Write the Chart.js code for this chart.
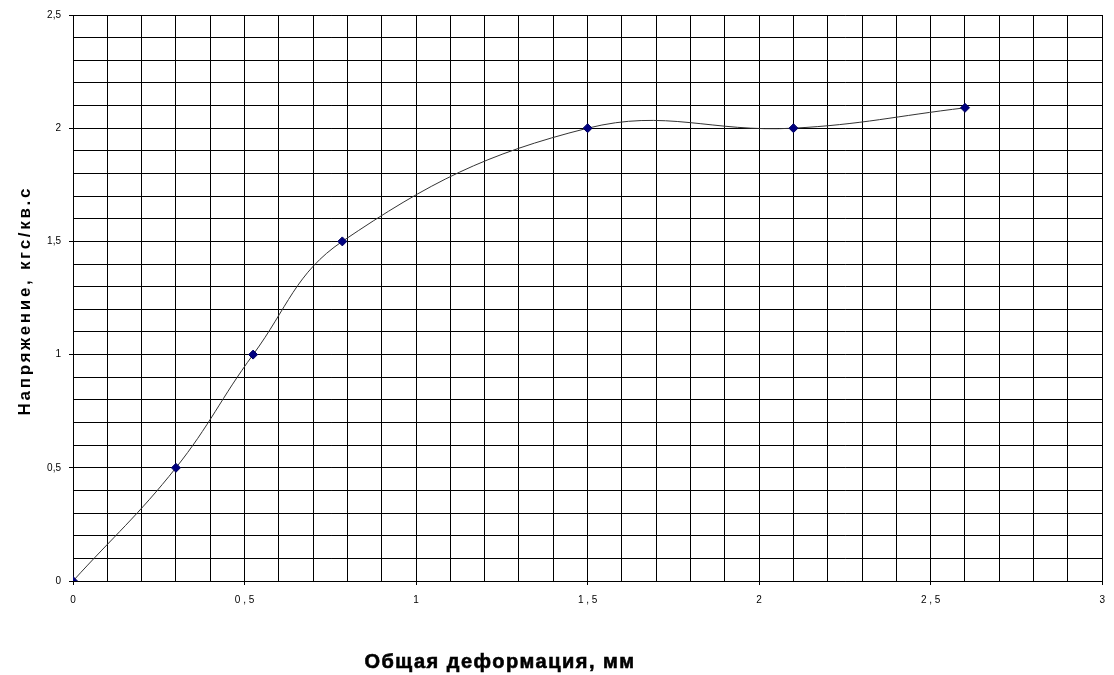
<!DOCTYPE html>
<html>
<head>
<meta charset="utf-8">
<script src="https://cdn.jsdelivr.net/npm/chart.js@4/dist/chart.umd.min.js"></script>
<style>
  body { margin: 0; background: #fff; }
  #wrap { width: 1114px; height: 675px; }
</style>
</head>
<body>
<div id="wrap"><canvas id="chart" width="1114" height="675"></canvas></div>
<script>
// данные
const deformation = [0, 0.3, 0.525, 0.785, 1.5, 2.1, 2.6];
const stress = [0, 0.5, 1, 1.5, 2, 2, 2.09];

const xTitle = 'Общая деформация, мм';
const yTitle = 'Напряжение, кгс/кв.см';

const isMajor = v => Math.round(v * 10) % 5 === 0;
const fmt = v => isMajor(v) ? String(Math.round(v * 10) / 10).replace('.', ' , ') : '';

// подписи осей рисуем сами (подпись по Y обрезана сверху, как в оригинале)
const axisTitles = {
  id: 'axisTitles',
  afterDraw(chart) {
    const ctx = chart.ctx;
    ctx.save();
    ctx.fillStyle = '#000';
    ctx.strokeStyle = '#000';
    ctx.lineWidth = 0.6;
    ctx.font = 'bold 20px "Liberation Sans", Arial, sans-serif';
    ctx.letterSpacing = '1.5px';
    ctx.textAlign = 'center';
    ctx.textBaseline = 'middle';
    ctx.fillText(xTitle, 500, 662);
    ctx.strokeText(xTitle, 500, 662);
    ctx.restore();

    ctx.save();
    ctx.beginPath();
    ctx.rect(0, 186, 60, 300);
    ctx.clip();
    ctx.translate(25, 293);
    ctx.rotate(-Math.PI / 2);
    ctx.fillStyle = '#000';
    ctx.font = 'bold 17px "Liberation Sans", Arial, sans-serif';
    ctx.letterSpacing = '2.7px';
    ctx.textAlign = 'center';
    ctx.textBaseline = 'middle';
    ctx.fillText(yTitle, 0, 0);
    ctx.restore();
  }
};

const tickCol = c => isMajor(c.tick.value) ? '#000' : 'rgba(0,0,0,0)';

const ctx = document.getElementById('chart').getContext('2d');
new Chart(ctx, {
  type: 'scatter',
  data: {
    datasets: [{
      data: deformation.map((x, i) => ({ x: x, y: stress[i] })),
      showLine: true,
      tension: 0.4,
      borderColor: '#333',
      borderWidth: 1,
      pointStyle: 'rectRot',
      pointRadius: 4.5,
      pointBackgroundColor: '#000080',
      pointBorderColor: '#000060',
      pointBorderWidth: 1
    }]
  },
  options: {
    responsive: false,
    animation: false,
    layout: { padding: { top: 15, right: 8, left: 0, bottom: 0 } },
    plugins: {
      legend: { display: false },
      tooltip: { enabled: false }
    },
    scales: {
      x: {
        type: 'linear',
        min: 0,
        max: 3,
        ticks: {
          stepSize: 0.1,
          autoSkip: false,
          maxRotation: 0,
          padding: 9,
          color: '#000',
          font: { size: 10, family: 'Arial, "Liberation Sans", sans-serif' },
          callback: fmt
        },
        grid: { color: '#000', lineWidth: 1, tickLength: 4, tickColor: tickCol },
        border: { color: '#000' },
        afterFit(scale) { scale.height = 94; }
      },
      y: {
        min: 0,
        max: 2.5,
        ticks: {
          stepSize: 0.1,
          autoSkip: false,
          padding: 8,
          color: '#000',
          font: { size: 10, family: 'Arial, "Liberation Sans", sans-serif' },
          callback: v => isMajor(v) ? String(Math.round(v * 10) / 10).replace('.', ',') : ''
        },
        grid: { color: '#000', lineWidth: 1, tickLength: 4, tickColor: tickCol },
        border: { color: '#000' },
        afterFit(scale) { scale.width = 73; }
      }
    }
  },
  plugins: [axisTitles]
});
</script>
</body>
</html>
